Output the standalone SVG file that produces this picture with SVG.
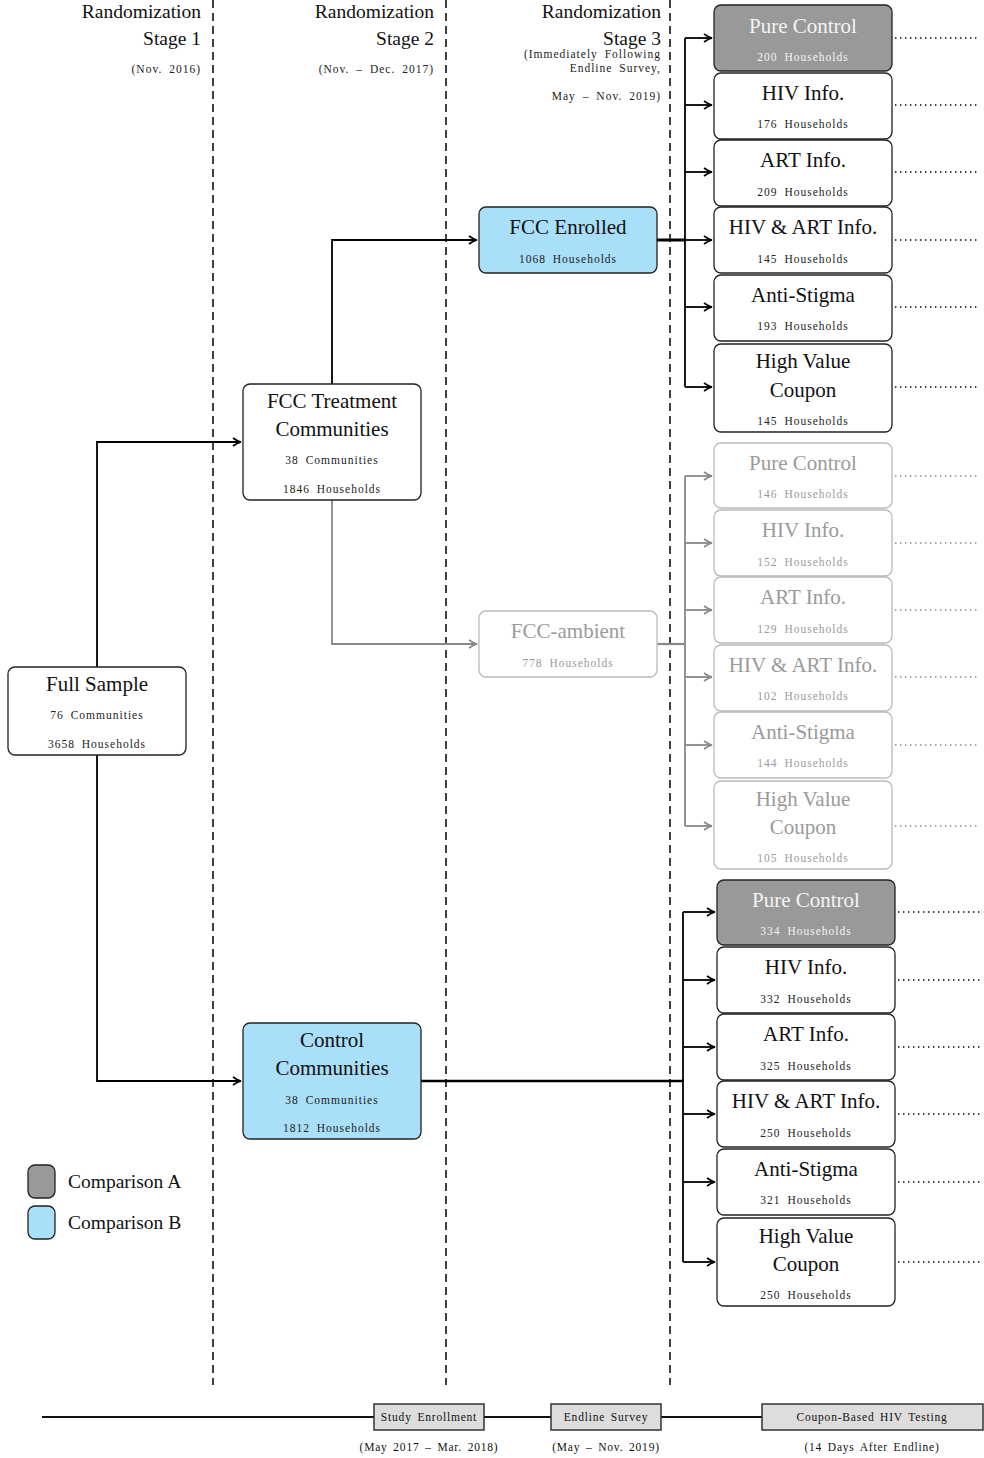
<svg xmlns="http://www.w3.org/2000/svg" width="984" height="1458" viewBox="0 0 984 1458">
<defs>
<marker id="ah" viewBox="0 0 10 10" refX="9" refY="5" markerWidth="10" markerHeight="10" markerUnits="userSpaceOnUse" orient="auto">
<path d="M1,1 Q5,4 9,5 Q5,6 1,9" fill="none" stroke="#000" stroke-width="1.6"/>
</marker>
<marker id="ahg" viewBox="0 0 10 10" refX="9" refY="5" markerWidth="10" markerHeight="10" markerUnits="userSpaceOnUse" orient="auto">
<path d="M1,1 Q5,4 9,5 Q5,6 1,9" fill="none" stroke="#888" stroke-width="1.6"/>
</marker>
<style>
text{font-family:"Liberation Serif","DejaVu Serif",serif;}
.t{font-size:21px;text-anchor:middle;fill:#111;}
.s{font-size:11.5px;text-anchor:middle;letter-spacing:1px;word-spacing:3px;fill:#222;}
.h{font-size:19.5px;text-anchor:end;fill:#111;}
.hs{font-size:11.5px;text-anchor:end;letter-spacing:1px;word-spacing:3px;fill:#222;}
.n{fill:#fff;stroke:#222;stroke-width:1.3;}
.gy{fill:#999;stroke:#222;stroke-width:1.3;}
.bl{fill:#a9dff8;stroke:#222;stroke-width:1.3;}
.fd{fill:#fff;stroke:#bbb;stroke-width:1.3;}
.w{fill:#f4f4f4;}
.f{fill:#9a9a9a;}
.c{fill:none;stroke:#000;stroke-width:1.8;}
.cg{fill:none;stroke:#888;stroke-width:1.8;}
.dl{fill:none;stroke:#000;stroke-width:1.5;stroke-dasharray:8 5;}
.dot{fill:none;stroke:#000;stroke-width:1.4;stroke-dasharray:1.4 3.6;}
.dotg{fill:none;stroke:#888;stroke-width:1.4;stroke-dasharray:1.4 3.6;}
.tb{fill:#ddd;stroke:#333;stroke-width:1.5;}
.ts{font-size:11.5px;text-anchor:middle;letter-spacing:0.8px;word-spacing:2px;fill:#111;}
</style>
</defs>
<rect width="984" height="1458" fill="#fff"/>

<g id="stage-lines">
<line class="dl" x1="213" y1="0" x2="213" y2="1385"/>
<line class="dl" x1="446" y1="0" x2="446" y2="1385"/>
<line class="dl" x1="670" y1="0" x2="670" y2="1385"/>
</g>

<g id="headers">
<text class="h" x="201" y="18">Randomization</text>
<text class="h" x="201" y="45">Stage 1</text>
<text class="hs" x="201" y="73">(Nov. 2016)</text>
<text class="h" x="434" y="18">Randomization</text>
<text class="h" x="434" y="45">Stage 2</text>
<text class="hs" x="434" y="73">(Nov. – Dec. 2017)</text>
<text class="h" x="661" y="18">Randomization</text>
<text class="h" x="661" y="45">Stage 3</text>
<text class="hs" x="661" y="58">(Immediately Following</text>
<text class="hs" x="661" y="72">Endline Survey,</text>
<text class="hs" x="661" y="100">May – Nov. 2019)</text>
</g>

<g id="connectors">
<polyline class="c" points="97,667 97,442 241,442" marker-end="url(#ah)"/>
<polyline class="c" points="97,755 97,1081 241,1081" marker-end="url(#ah)"/>
<polyline class="c" points="332,384 332,240 477,240" marker-end="url(#ah)"/>
<polyline class="cg" points="332,500 332,644 477,644" marker-end="url(#ahg)"/>
<line x1="657" y1="240" x2="686" y2="240" stroke="#000" stroke-width="3"/>
<line x1="685" y1="38" x2="685" y2="387" stroke="#000" stroke-width="1.8"/>
<line class="c" x1="685" y1="38" x2="712" y2="38" marker-end="url(#ah)"/>
<line class="c" x1="685" y1="105" x2="712" y2="105" marker-end="url(#ah)"/>
<line class="c" x1="685" y1="172" x2="712" y2="172" marker-end="url(#ah)"/>
<line class="c" x1="685" y1="240" x2="712" y2="240" marker-end="url(#ah)"/>
<line class="c" x1="685" y1="307" x2="712" y2="307" marker-end="url(#ah)"/>
<line class="c" x1="685" y1="387" x2="712" y2="387" marker-end="url(#ah)"/>
<line x1="657" y1="644" x2="686" y2="644" stroke="#888" stroke-width="2.2"/>
<line x1="685" y1="476" x2="685" y2="826" stroke="#888" stroke-width="1.8"/>
<line class="cg" x1="685" y1="476" x2="712" y2="476" marker-end="url(#ahg)"/>
<line class="cg" x1="685" y1="543" x2="712" y2="543" marker-end="url(#ahg)"/>
<line class="cg" x1="685" y1="610" x2="712" y2="610" marker-end="url(#ahg)"/>
<line class="cg" x1="685" y1="677" x2="712" y2="677" marker-end="url(#ahg)"/>
<line class="cg" x1="685" y1="745" x2="712" y2="745" marker-end="url(#ahg)"/>
<line class="cg" x1="685" y1="826" x2="712" y2="826" marker-end="url(#ahg)"/>
<line x1="421" y1="1081" x2="684" y2="1081" stroke="#000" stroke-width="2.6"/>
<line x1="683" y1="912" x2="683" y2="1262" stroke="#000" stroke-width="1.8"/>
<line class="c" x1="683" y1="912" x2="715" y2="912" marker-end="url(#ah)"/>
<line class="c" x1="683" y1="980" x2="715" y2="980" marker-end="url(#ah)"/>
<line class="c" x1="683" y1="1047" x2="715" y2="1047" marker-end="url(#ah)"/>
<line class="c" x1="683" y1="1114" x2="715" y2="1114" marker-end="url(#ah)"/>
<line class="c" x1="683" y1="1182" x2="715" y2="1182" marker-end="url(#ah)"/>
<line class="c" x1="683" y1="1262" x2="715" y2="1262" marker-end="url(#ah)"/>
<line class="dot" x1="895" y1="38" x2="978" y2="38"/>
<line class="dot" x1="895" y1="105" x2="978" y2="105"/>
<line class="dot" x1="895" y1="172" x2="978" y2="172"/>
<line class="dot" x1="895" y1="240" x2="978" y2="240"/>
<line class="dot" x1="895" y1="307" x2="978" y2="307"/>
<line class="dot" x1="895" y1="387" x2="978" y2="387"/>
<line class="dotg" x1="895" y1="476" x2="978" y2="476"/>
<line class="dotg" x1="895" y1="543" x2="978" y2="543"/>
<line class="dotg" x1="895" y1="610" x2="978" y2="610"/>
<line class="dotg" x1="895" y1="677" x2="978" y2="677"/>
<line class="dotg" x1="895" y1="745" x2="978" y2="745"/>
<line class="dotg" x1="895" y1="826" x2="978" y2="826"/>
<line class="dot" x1="898" y1="912" x2="981" y2="912"/>
<line class="dot" x1="898" y1="980" x2="981" y2="980"/>
<line class="dot" x1="898" y1="1047" x2="981" y2="1047"/>
<line class="dot" x1="898" y1="1114" x2="981" y2="1114"/>
<line class="dot" x1="898" y1="1182" x2="981" y2="1182"/>
<line class="dot" x1="898" y1="1262" x2="981" y2="1262"/>
</g>

<g id="full-sample">
<rect class="n" x="8" y="667" width="178" height="88" rx="7"/>
<text class="t" x="97" y="691">Full Sample</text>
<text class="s" x="97" y="719">76 Communities</text>
<text class="s" x="97" y="748">3658 Households</text>
</g>

<g id="fcc-treatment">
<rect class="n" x="243" y="384" width="178" height="116" rx="7"/>
<text class="t" x="332" y="408">FCC Treatment</text>
<text class="t" x="332" y="436">Communities</text>
<text class="s" x="332" y="464">38 Communities</text>
<text class="s" x="332" y="493">1846 Households</text>
</g>

<g id="control-communities">
<rect class="bl" x="243" y="1023" width="178" height="116" rx="7"/>
<text class="t" x="332" y="1047">Control</text>
<text class="t" x="332" y="1075">Communities</text>
<text class="s" x="332" y="1104">38 Communities</text>
<text class="s" x="332" y="1132">1812 Households</text>
</g>

<g id="fcc-enrolled">
<rect class="bl" x="479" y="207" width="178" height="66" rx="7"/>
<text class="t" x="568" y="234">FCC Enrolled</text>
<text class="s" x="568" y="263">1068 Households</text>
</g>

<g id="fcc-ambient">
<rect class="fd" x="479" y="611" width="178" height="66" rx="7"/>
<text class="t f" x="568" y="638">FCC-ambient</text>
<text class="s f" x="568" y="667">778 Households</text>
</g>

<g id="enr-pure-control">
<rect class="gy" x="714" y="5" width="178" height="66" rx="7"/>
<text class="t w" x="803" y="33">Pure Control</text>
<text class="s w" x="803" y="61">200 Households</text>
</g>
<g id="enr-hiv-info">
<rect class="n" x="714" y="73" width="178" height="66" rx="7"/>
<text class="t" x="803" y="100">HIV Info.</text>
<text class="s" x="803" y="128">176 Households</text>
</g>
<g id="enr-art-info">
<rect class="n" x="714" y="140" width="178" height="66" rx="7"/>
<text class="t" x="803" y="167">ART Info.</text>
<text class="s" x="803" y="196">209 Households</text>
</g>
<g id="enr-hiv-art-info">
<rect class="n" x="714" y="207" width="178" height="66" rx="7"/>
<text class="t" x="803" y="234">HIV &amp; ART Info.</text>
<text class="s" x="803" y="263">145 Households</text>
</g>
<g id="enr-anti-stigma">
<rect class="n" x="714" y="275" width="178" height="66" rx="7"/>
<text class="t" x="803" y="302">Anti-Stigma</text>
<text class="s" x="803" y="330">193 Households</text>
</g>
<g id="enr-high-value">
<rect class="n" x="714" y="344" width="178" height="88" rx="7"/>
<text class="t" x="803" y="368">High Value</text>
<text class="t" x="803" y="397">Coupon</text>
<text class="s" x="803" y="425">145 Households</text>
</g>

<g id="amb-pure-control">
<rect class="fd" x="714" y="443" width="178" height="65" rx="7"/>
<text class="t f" x="803" y="470">Pure Control</text>
<text class="s f" x="803" y="498">146 Households</text>
</g>
<g id="amb-hiv-info">
<rect class="fd" x="714" y="510" width="178" height="66" rx="7"/>
<text class="t f" x="803" y="537">HIV Info.</text>
<text class="s f" x="803" y="566">152 Households</text>
</g>
<g id="amb-art-info">
<rect class="fd" x="714" y="577" width="178" height="66" rx="7"/>
<text class="t f" x="803" y="604">ART Info.</text>
<text class="s f" x="803" y="633">129 Households</text>
</g>
<g id="amb-hiv-art-info">
<rect class="fd" x="714" y="645" width="178" height="66" rx="7"/>
<text class="t f" x="803" y="672">HIV &amp; ART Info.</text>
<text class="s f" x="803" y="700">102 Households</text>
</g>
<g id="amb-anti-stigma">
<rect class="fd" x="714" y="712" width="178" height="66" rx="7"/>
<text class="t f" x="803" y="739">Anti-Stigma</text>
<text class="s f" x="803" y="767">144 Households</text>
</g>
<g id="amb-high-value">
<rect class="fd" x="714" y="781" width="178" height="88" rx="7"/>
<text class="t f" x="803" y="806">High Value</text>
<text class="t f" x="803" y="834">Coupon</text>
<text class="s f" x="803" y="862">105 Households</text>
</g>

<g id="ctl-pure-control">
<rect class="gy" x="717" y="880" width="178" height="65" rx="7"/>
<text class="t w" x="806" y="907">Pure Control</text>
<text class="s w" x="806" y="935">334 Households</text>
</g>
<g id="ctl-hiv-info">
<rect class="n" x="717" y="947" width="178" height="66" rx="7"/>
<text class="t" x="806" y="974">HIV Info.</text>
<text class="s" x="806" y="1003">332 Households</text>
</g>
<g id="ctl-art-info">
<rect class="n" x="717" y="1014" width="178" height="66" rx="7"/>
<text class="t" x="806" y="1041">ART Info.</text>
<text class="s" x="806" y="1070">325 Households</text>
</g>
<g id="ctl-hiv-art-info">
<rect class="n" x="717" y="1081" width="178" height="66" rx="7"/>
<text class="t" x="806" y="1108">HIV &amp; ART Info.</text>
<text class="s" x="806" y="1137">250 Households</text>
</g>
<g id="ctl-anti-stigma">
<rect class="n" x="717" y="1149" width="178" height="66" rx="7"/>
<text class="t" x="806" y="1176">Anti-Stigma</text>
<text class="s" x="806" y="1204">321 Households</text>
</g>
<g id="ctl-high-value">
<rect class="n" x="717" y="1218" width="178" height="88" rx="7"/>
<text class="t" x="806" y="1243">High Value</text>
<text class="t" x="806" y="1271">Coupon</text>
<text class="s" x="806" y="1299">250 Households</text>
</g>

<g id="legend">
<rect class="gy" x="28" y="1165" width="27" height="33" rx="7"/>
<text x="68" y="1188" style="font-size:19.5px;fill:#111;">Comparison A</text>
<rect class="bl" x="28" y="1206" width="27" height="33" rx="7"/>
<text x="68" y="1229" style="font-size:19.5px;fill:#111;">Comparison B</text>
</g>

<g id="timeline">
<line x1="42" y1="1417" x2="764" y2="1417" stroke="#111" stroke-width="2"/>
<rect class="tb" x="374" y="1404" width="110" height="26"/>
<text class="ts" x="429" y="1421">Study Enrollment</text>
<rect class="tb" x="551" y="1404" width="110" height="26"/>
<text class="ts" x="606" y="1421">Endline Survey</text>
<rect class="tb" x="762" y="1404" width="221" height="26"/>
<text class="ts" x="872" y="1421">Coupon-Based HIV Testing</text>
<text class="ts" x="429" y="1451">(May 2017 – Mar. 2018)</text>
<text class="ts" x="606" y="1451">(May – Nov. 2019)</text>
<text class="ts" x="872" y="1451">(14 Days After Endline)</text>
</g>
</svg>
